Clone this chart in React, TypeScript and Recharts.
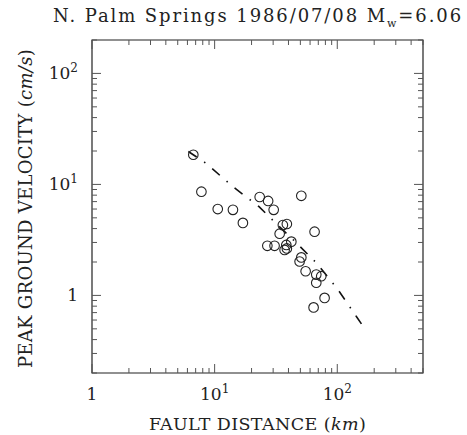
import React from "react";
import {
  ScatterChart,
  Scatter,
  XAxis,
  YAxis,
  ReferenceArea,
} from "recharts";

// observed stations: fault distance (km), peak ground velocity (cm/s)
const distKm = [6.7, 7.8, 10.6, 14.1, 17.0, 23.3, 27.3, 30.3, 26.9, 30.8, 36.0, 38.8, 33.9, 38.4, 37.2, 42.2, 38.8, 50.9, 65.3, 50.9, 49.3, 55.2, 67.4, 74.0, 67.4, 78.8, 64.1];
const pgv = [18.5, 8.6, 6.0, 5.9, 4.5, 7.7, 7.1, 5.9, 2.8, 2.8, 4.3, 4.4, 3.6, 2.85, 2.57, 3.05, 2.65, 7.9, 3.75, 2.2, 2.02, 1.65, 1.54, 1.49, 1.3, 0.95, 0.78];

// attenuation curve
const curveDist = [6.1, 8.5, 14, 23, 32, 44, 68, 100, 144, 172];
const curvePgv = [19.8, 15.5, 9.6, 6.3, 4.4, 3.15, 1.95, 1.15, 0.64, 0.48];

const xTicks = [1, 2, 3, 4, 5, 6, 7, 8, 9, 10, 20, 30, 40, 50, 60, 70, 80, 90, 100, 200, 300, 400, 500];
const yTicks = [0.2, 0.3, 0.4, 0.5, 0.6, 0.7, 0.8, 0.9, 1, 2, 3, 4, 5, 6, 7, 8, 9, 10, 20, 30, 40, 50, 60, 70, 80, 90, 100, 200];

const points = distKm.map((d, i) => ({ x: d, y: pgv[i] }));
const curve = curveDist.map((d, i) => ({ x: d, y: curvePgv[i] }));

const W = 467;
const H = 435;
const LEFT = 92;
const TOP = 40;
const RIGHT = 44;
const BOTTOM = 62;
const PW = W - LEFT - RIGHT;
const PH = H - TOP - BOTTOM;
const FONT = "'DejaVu Serif', serif";
const INK = "#222";

const isDecade = (v: number) => {
  const l = Math.log10(v);
  return Math.abs(l - Math.round(l)) < 1e-6;
};

const DecadeLabel = ({ v, ...rest }: any) => {
  const p = Math.round(Math.log10(v));
  if (p === 0) return <text {...rest}>1</text>;
  return (
    <text {...rest}>
      10
      <tspan dy={-7} fontSize={12}>
        {p}
      </tspan>
    </text>
  );
};

const XTick = ({ x, y, payload }: any) => {
  const v = payload.value;
  const major = isDecade(v);
  const len = major ? 9 : 5;
  return (
    <g>
      <line x1={x} x2={x} y1={y} y2={y - len} stroke="#555" />
      <line x1={x} x2={x} y1={y - PH} y2={y - PH + len} stroke="#555" />
      {major && (
        <DecadeLabel v={v} x={x} y={y + 27} textAnchor="middle" fontFamily={FONT} fontSize={17} fill={INK} />
      )}
    </g>
  );
};

const YTick = ({ x, y, payload }: any) => {
  const v = payload.value;
  const major = isDecade(v);
  const len = major ? 9 : 5;
  return (
    <g>
      <line x1={x} x2={x + len} y1={y} y2={y} stroke="#555" />
      <line x1={x + PW} x2={x + PW - len} y1={y} y2={y} stroke="#555" />
      {major && (
        <DecadeLabel v={v} x={x - 14} y={y + 6} textAnchor="end" fontFamily={FONT} fontSize={17} fill={INK} />
      )}
    </g>
  );
};

const Ring = ({ cx, cy }: any) => (
  <circle cx={cx} cy={cy} r={4.8} fill="none" stroke={INK} strokeWidth={1.1} />
);

export default function App() {
  return (
    <div style={{ position: "absolute", left: 0, top: 0, width: W, height: H, background: "#fff" }}>
      <ScatterChart width={W} height={H} margin={{ top: TOP, right: RIGHT, bottom: 0, left: 0 }}>
        <XAxis
          type="number"
          dataKey="x"
          scale="log"
          domain={[1, 500]}
          ticks={xTicks}
          height={BOTTOM}
          tickSize={0}
          tickMargin={0}
          axisLine={false}
          tickLine={false}
          tick={<XTick />}
          interval={0}
          allowDataOverflow
        />
        <YAxis
          type="number"
          dataKey="y"
          scale="log"
          domain={[0.2, 200]}
          ticks={yTicks}
          width={LEFT}
          tickSize={0}
          tickMargin={0}
          axisLine={false}
          tickLine={false}
          tick={<YTick />}
          interval={0}
          allowDataOverflow
        />
        <ReferenceArea x1={1} x2={500} y1={0.2} y2={200} fill="none" stroke={INK} strokeWidth={1.2} ifOverflow="visible" />
        <Scatter
          data={curve}
          shape={() => null}
          line={{ stroke: "#111", strokeWidth: 1.6, strokeDasharray: "10 9 1.5 9" }}
          lineType="joint"
          isAnimationActive={false}
        />
        <Scatter data={points} shape={<Ring />} isAnimationActive={false} />
      </ScatterChart>
      <svg width={W} height={H} style={{ position: "absolute", left: 0, top: 0, pointerEvents: "none" }}>
        <text x={463} y={22} textAnchor="end" fontFamily={FONT} fontSize={18} letterSpacing={1.9} fill={INK}>
          N. Palm Springs 1986/07/08 M
          <tspan dy={5} fontSize={11}>w</tspan>
          <tspan dy={-5}>=6.06</tspan>
        </text>
        <text x={LEFT + PW / 2} y={430} textAnchor="middle" fontFamily={FONT} fontSize={17.5} letterSpacing={0.4} fill={INK}>
          FAULT DISTANCE (<tspan fontStyle="italic">km</tspan>)
        </text>
        <text
          transform={`translate(32, ${TOP + PH / 2 + 2}) rotate(-90)`}
          textAnchor="middle"
          fontFamily={FONT}
          fontSize={18}
          letterSpacing={0.3}
          fill={INK}
        >
          PEAK GROUND VELOCITY (<tspan fontStyle="italic">cm/s</tspan>)
        </text>
      </svg>
    </div>
  );
}
